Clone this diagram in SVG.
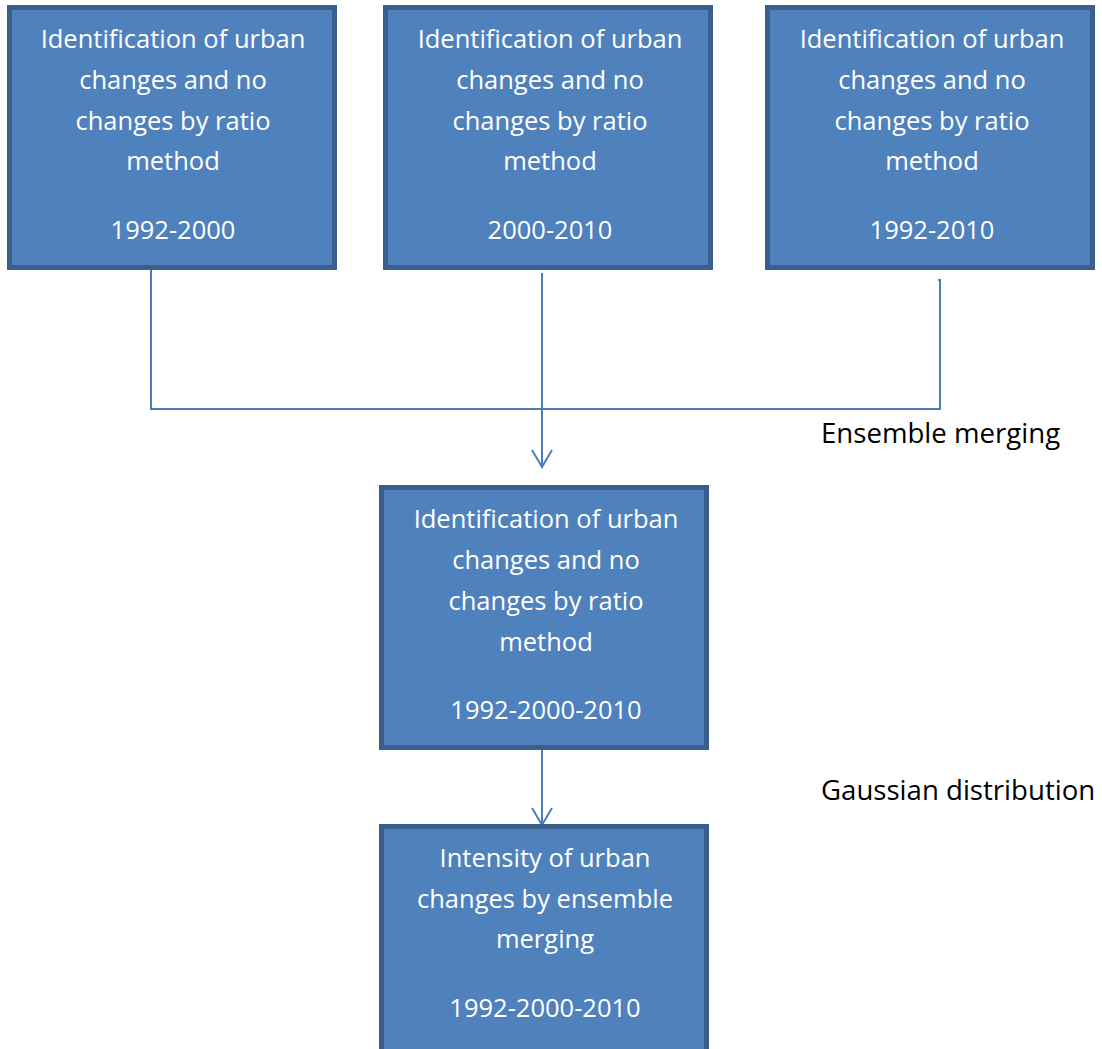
<svg xmlns="http://www.w3.org/2000/svg" width="1102" height="1049" viewBox="0 0 1102 1049">
<style>
.box{fill:#4F81BD;stroke:#3A5F8D;stroke-width:5}
.t{fill:#FFFFFF;font-family:"Open Sans","Liberation Sans",sans-serif;font-size:25.5px;text-anchor:middle}
.lbl{fill:#000000;font-family:"Open Sans","Liberation Sans",sans-serif;font-size:27.6px}
.c{fill:none;stroke:#4A7EBB;stroke-width:2}
</style>
<rect width="1102" height="1049" fill="#FFFFFF"/>
<g id="connectors">
<polyline class="c" points="151,269 151,409 940,409 940,280 938,280"/>
<line class="c" x1="542" y1="273" x2="542" y2="466"/>
<polyline class="c" points="532,450 542,467 552,450"/>
<line class="c" x1="542" y1="750" x2="542" y2="824"/>
<polyline class="c" points="532,808 542,825 552,808"/>
</g>
<g id="box1">
<rect class="box" x="9.5" y="7.5" width="325" height="260"/>
<text class="t" x="173" y="48">Identification of urban</text>
<text class="t" x="173" y="89">changes and no</text>
<text class="t" x="173" y="130">changes by ratio</text>
<text class="t" x="173" y="170">method</text>
<text class="t" x="173" y="239">1992-2000</text>
</g>
<g id="box2">
<rect class="box" x="385.5" y="7.5" width="325" height="260"/>
<text class="t" x="550" y="48">Identification of urban</text>
<text class="t" x="550" y="89">changes and no</text>
<text class="t" x="550" y="130">changes by ratio</text>
<text class="t" x="550" y="170">method</text>
<text class="t" x="550" y="239">2000-2010</text>
</g>
<g id="box3">
<rect class="box" x="767.5" y="7.5" width="325" height="260"/>
<text class="t" x="932" y="48">Identification of urban</text>
<text class="t" x="932" y="89">changes and no</text>
<text class="t" x="932" y="130">changes by ratio</text>
<text class="t" x="932" y="170">method</text>
<text class="t" x="932" y="239">1992-2010</text>
</g>
<g id="box4">
<rect class="box" x="381.5" y="487.5" width="325" height="260"/>
<text class="t" x="546" y="528">Identification of urban</text>
<text class="t" x="546" y="569">changes and no</text>
<text class="t" x="546" y="610">changes by ratio</text>
<text class="t" x="546" y="651">method</text>
<text class="t" x="546" y="719">1992-2000-2010</text>
</g>
<g id="box5">
<rect class="box" x="381.5" y="826.5" width="325" height="260"/>
<text class="t" x="545" y="867">Intensity of urban</text>
<text class="t" x="545" y="908">changes by ensemble</text>
<text class="t" x="545" y="948">merging</text>
<text class="t" x="545" y="1017">1992-2000-2010</text>
</g>
<g id="labels">
<text class="lbl" x="821" y="443">Ensemble merging</text>
<text class="lbl" x="821" y="800">Gaussian distribution</text>
</g>
</svg>
